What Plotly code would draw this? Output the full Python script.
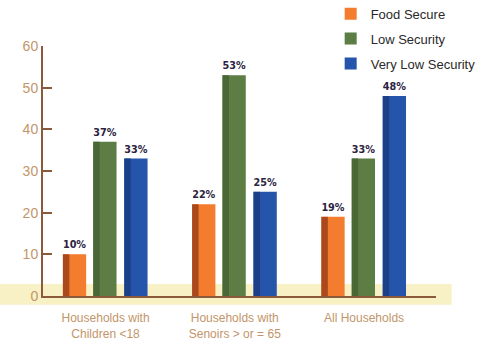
import plotly.graph_objects as go

categories = ["Households with<br>Children &lt;18", "Households with<br>Senoirs &gt; or = 65", "All Households"]
series_names = ["Food Secure", "Low Security", "Very Low Security"]
food_secure = [10, 22, 19]
low_security = [37, 53, 33]
very_low_security = [33, 25, 48]
y_ticks = [0, 10, 20, 30, 40, 50, 60]

values = [food_secure, low_security, very_low_security]
colors = ["#F47C2E", "#5C7D44", "#2455AA"]
dark = ["#A9491C", "#4A6835", "#1B4088"]
offsets = [-0.33, -0.095, 0.145]
width = 0.18
xpos = [0, 1, 2]

fig = go.Figure()
for name, vals, c, off in zip(series_names, values, colors, offsets):
    fig.add_trace(go.Bar(
        x=xpos, y=vals, name=name, marker=dict(color=c, line=dict(width=0)),
        offset=off, width=width, legendgroup=name,
        text=[f"{v}%" for v in vals], textposition="outside",
        textfont=dict(family="DejaVu Sans Condensed, Liberation Sans Narrow", size=11, color="#2B2340",
                      weight="bold"),
        cliponaxis=False, hoverinfo="skip",
    ))
for name, vals, d, off in zip(series_names, values, dark, offsets):
    fig.add_trace(go.Bar(
        x=xpos, y=vals, name=name, marker=dict(color=d, line=dict(width=0)),
        offset=off, width=0.05, showlegend=False, legendgroup=name, hoverinfo="skip",
    ))

fig.add_shape(type="rect", xref="paper", yref="paper", x0=-0.11, x1=1.04, y0=-0.035, y1=0.048,
              fillcolor="#F9F1C6", line=dict(width=0), layer="below")

fig.update_layout(
    width=478, height=343,
    margin=dict(l=43, r=42, t=46, b=47, autoexpand=False),
    paper_bgcolor="white", plot_bgcolor="rgba(0,0,0,0)",
    barmode="overlay", showlegend=True,
    legend=dict(x=0.732, y=1.189, xanchor="left", yanchor="top", traceorder="grouped",
                tracegroupgap=5, bgcolor="rgba(0,0,0,0)",
                font=dict(family="Liberation Sans, Arial", size=13, color="#2a2a2a"),
                itemwidth=30),
    xaxis=dict(range=[-0.484, 2.557], tickvals=xpos, ticktext=categories, showgrid=False,
               zeroline=False, showline=True, linecolor="#8A5A3A", linewidth=2, ticks="",
               ticklabelstandoff=10,
               tickfont=dict(family="Liberation Sans, Arial", size=12, color="#C2956A")),
    yaxis=dict(range=[0, 60], tickvals=y_ticks, showgrid=False, zeroline=False, showline=True,
               linecolor="#8A5A3A", linewidth=2, ticks="inside", ticklen=9, tickwidth=2,
               tickcolor="#8A5A3A",
               tickfont=dict(family="Liberation Sans, Arial", size=14, color="#C2956A")),
)

fig.write_html("out.html", config={"displayModeBar": False},
               post_script="document.body.style.margin='0';document.body.style.overflow='hidden';")
